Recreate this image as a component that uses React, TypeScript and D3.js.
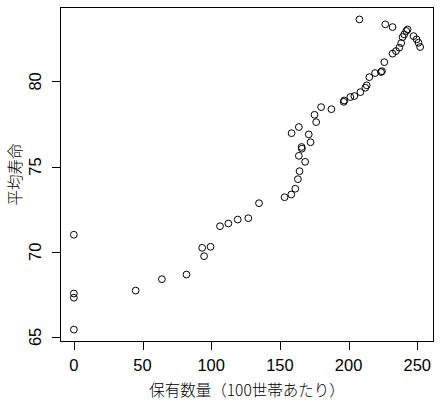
import React from "react";
import * as d3 from "d3";

const ownership: number[] = [
  0, 0, 0, 0, 45.0, 64.1, 82.0, 93.4, 94.8, 99.5,
  106.4, 112.5, 119.3, 127.0, 134.8, 153.4, 158.3, 161.2, 163.1, 164.3,
  168.4, 163.8, 166.0, 165.8, 172.3, 171.0, 158.5, 163.8, 176.4, 175.2,
  180.0, 187.5, 196.5, 196.8, 201.3, 204.2, 208.6, 212.2, 213.2, 215.1,
  219.3, 223.6, 224.3, 226.0, 232.0, 234.5, 236.9, 238.3, 239.3, 240.5,
  242.0, 243.0, 247.3, 249.5, 250.9, 252.1, 207.9, 226.7, 232.0,
];
const lifeExpectancy: number[] = [
  71.0, 67.55, 67.3, 65.43, 67.72, 68.39, 68.66, 70.23, 69.74, 70.29,
  71.5, 71.66, 71.89, 71.97, 72.85, 73.2, 73.36, 73.7, 74.26, 74.73,
  75.28, 75.63, 76.05, 76.15, 76.43, 76.89, 76.96, 77.32, 77.61, 78.04,
  78.49, 78.37, 78.8, 78.88, 79.08, 79.14, 79.37, 79.63, 79.77, 80.25,
  80.49, 80.55, 80.6, 81.13, 81.63, 81.78, 81.98, 82.25, 82.6, 82.76,
  82.96, 83.05, 82.66, 82.47, 82.27, 82.02, 83.64, 83.35, 83.19,
];
const xTicks: number[] = [0, 50, 100, 150, 200, 250];
const yTicks: number[] = [65, 70, 75, 80];
const xLabel = "保有数量（100世帯あたり）";
const yLabel = "平均寿命";

const W = 440;
const H = 402;
const box = { left: 60, right: 434, top: 7, bottom: 342 };
const FONT = "'Liberation Sans', 'Noto Sans CJK JP', sans-serif";
const CJK_FONT = "'Noto Sans CJK JP', 'Noto Sans', sans-serif";

function padded(vals: number[]): [number, number] {
  const [a, b] = d3.extent(vals) as [number, number];
  const p = (b - a) * 0.04;
  return [a - p, b + p];
}

export default function App() {
  const x = d3.scaleLinear().domain(padded(ownership)).range([box.left, box.right]);
  const y = d3.scaleLinear().domain(padded(lifeExpectancy)).range([box.bottom, box.top]);
  const tickLen = 8;
  const fs = 16.5;
  const lfs = 15.5;
  const cy = (box.top + box.bottom) / 2;
  const cx = (box.left + box.right) / 2;

  return (
    <svg
      width={W}
      height={H}
      style={{ position: "absolute", left: 0, top: 0, background: "#fff" }}
      fontFamily={FONT}
    >
      <rect
        x={box.left + 0.5}
        y={box.top + 0.5}
        width={box.right - box.left - 1}
        height={box.bottom - box.top - 1}
        fill="none"
        stroke="#000"
        strokeWidth={1}
      />
      {xTicks.map((t) => (
        <g key={"xt" + t}>
          <line
            x1={Math.round(x(t)) + 0.5}
            x2={Math.round(x(t)) + 0.5}
            y1={box.bottom - 0.5}
            y2={box.bottom + tickLen}
            stroke="#000"
          />
          <text
            x={x(t)}
            y={365}
            textAnchor="middle"
            dominantBaseline="central"
            fontSize={fs}
            fill="#000"
          >
            {t}
          </text>
        </g>
      ))}
      {yTicks.map((t) => (
        <g key={"yt" + t}>
          <line
            x1={box.left - tickLen}
            x2={box.left + 0.5}
            y1={Math.round(y(t)) + 0.5}
            y2={Math.round(y(t)) + 0.5}
            stroke="#000"
          />
          <text
            transform={`translate(35,${y(t)}) rotate(-90)`}
            textAnchor="middle"
            dominantBaseline="central"
            fontSize={fs}
            fill="#000"
          >
            {t}
          </text>
        </g>
      ))}
      <text
        x={cx}
        y={389}
        textAnchor="middle"
        dominantBaseline="central"
        fontSize={lfs}
        fontFamily={CJK_FONT}
        fontWeight={300}
        fill="#000"
      >
        {xLabel}
      </text>
      <text
        transform={`translate(14,${cy}) rotate(-90)`}
        textAnchor="middle"
        dominantBaseline="central"
        fontSize={lfs}
        fontFamily={CJK_FONT}
        fontWeight={300}
        fill="#000"
      >
        {yLabel}
      </text>
      {ownership.map((v, i) => (
        <circle
          key={i}
          cx={x(v)}
          cy={y(lifeExpectancy[i])}
          r={3.4}
          fill="none"
          stroke="#000"
          strokeWidth={1}
        />
      ))}
    </svg>
  );
}
